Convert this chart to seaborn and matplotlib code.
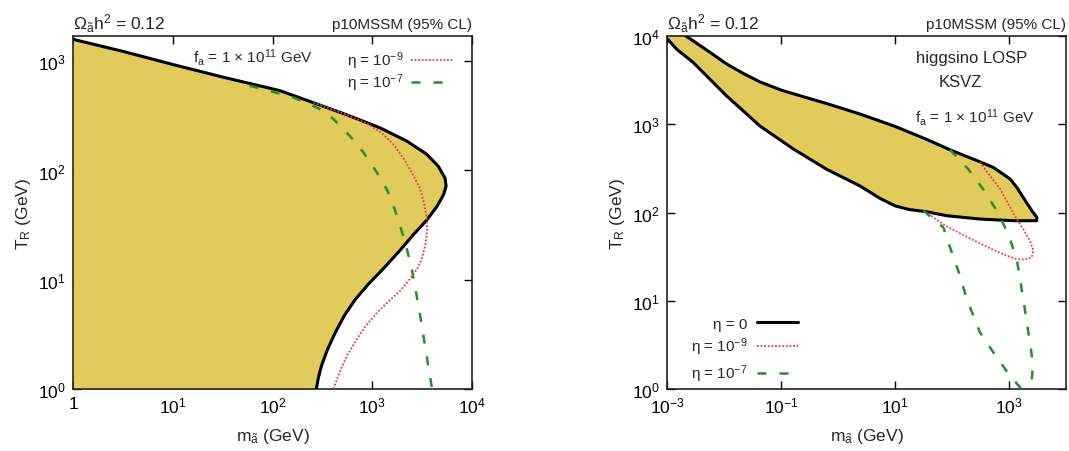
import numpy as np
import matplotlib
matplotlib.use("Agg")
import matplotlib.pyplot as plt
import seaborn as sns

sns.set_style("ticks")
plt.rcParams['font.family'] = ['Liberation Sans', 'DejaVu Sans']
plt.rcParams['mathtext.fontset'] = 'custom'
plt.rcParams['mathtext.rm'] = 'Liberation Sans'
plt.rcParams['mathtext.it'] = 'Liberation Sans:italic'
plt.rcParams['mathtext.bf'] = 'Liberation Sans:bold'

# ---- left panel: eta = 0 boundary (m in GeV, T_R in GeV)
left_eta0_m = [1, 3.16, 10, 31.6, 119, 257, 550, 1202, 2213, 3508, 4571, 5370, 5495, 5188,
               4467, 3508, 2570, 1862, 1288, 912, 676, 525, 427, 355, 309, 288, 275]
left_eta0_T = [1585, 1230, 933, 716, 537, 417, 324, 245, 186, 141, 110, 85, 72, 60,
               47, 35, 25.7, 18.2, 12.6, 9.1, 6.6, 4.7, 3.3, 2.29, 1.62, 1.26, 1.0]

left_eta9_m = [257, 550, 891, 1259, 1660, 2089, 2570, 3020, 3311, 3508, 3548, 3428, 3162,
               2818, 2399, 1905, 1413, 1072, 851, 692, 562, 479, 407]
left_eta9_T = [417, 324, 269, 219, 170, 126, 91, 68, 50, 36.3, 28.2, 21.4, 15.8, 12.6,
               10.2, 7.94, 6.17, 4.79, 3.72, 2.82, 2.04, 1.48, 1.0]

left_eta7_m = [58.9, 100, 158, 229, 302, 398, 501, 631, 794, 1000, 1202, 1413, 1585, 1778,
               1995, 2239, 2512, 2754, 3020, 3311, 3631, 3981]
left_eta7_T = [596, 525, 468, 407, 363, 302, 245, 195, 151, 112, 85, 66, 51, 38, 26.9,
               18.6, 12.0, 7.6, 4.7, 2.82, 1.66, 1.0]

# ---- right panel: higgsino LOSP, KSVZ
right_upper_m = [0.001, 0.002213, 0.005675, 0.01114, 0.02188, 0.04266, 0.1028, 0.2512,
                 0.631, 2.432, 10, 35.5, 92.3, 269, 531, 1047, 1380, 1778, 2138, 2512,
                 2884, 3090]
right_upper_T = [14800, 9886, 6531, 4819, 3758, 3020, 2427, 2042, 1718, 1306, 946, 676,
                 513, 389, 324, 240, 191, 148, 123, 105, 93.3, 87.1]
right_lower_m = [0.00101, 0.001479, 0.002884, 0.005675, 0.01114, 0.02188, 0.04266, 0.1644,
                 0.631, 2.432, 5.46, 10, 17.8, 35.9, 80.5, 309, 1189, 3055]
right_lower_T = [9333, 7079, 5012, 3236, 2089, 1413, 955, 525, 309, 200, 144.5, 119, 108,
                 102, 92, 84.3, 80.7, 80.7]

right_eta9_m = [309, 465, 695, 973, 1365, 1778, 2333, 2673, 2500, 1905, 1365, 912, 531, 309,
                158, 80.5, 46.8, 38.5]
right_eta9_T = [372, 261, 185, 125, 84.3, 65, 47.9, 36.9, 31.0, 29.2, 29.7, 32.4, 37.8, 44.7,
                55.6, 69.7, 88.1, 100]

right_eta7a_m = [92.3, 194, 355, 610, 973, 1380, 1778, 2188, 2512, 2570, 2432]
right_eta7a_T = [513, 309, 182, 105, 57, 28.8, 10.5, 4.37, 2.40, 1.55, 1.0]
right_eta7b_m = [31.4, 70.5, 98.9, 138, 181, 309, 531, 1042, 1660]
right_eta7b_T = [105, 67.6, 35.5, 19.2, 10.5, 4.39, 2.60, 1.41, 1.0]

left_xticks = [1, 10, 100, 1000, 10000]
left_xlabels = ['1', '10$^{1}$', '10$^{2}$', '10$^{3}$', '10$^{4}$']
left_yticks = [1, 10, 100, 1000]
left_ylabels = ['10$^{0}$', '10$^{1}$', '10$^{2}$', '10$^{3}$']
right_xticks = [1e-3, 1e-1, 1e1, 1e3]
right_xlabels = ['10$^{-3}$', '10$^{-1}$', '10$^{1}$', '10$^{3}$']
right_yticks = [1, 10, 100, 1000, 10000]
right_ylabels = ['10$^{0}$', '10$^{1}$', '10$^{2}$', '10$^{3}$', '10$^{4}$']

fill_color = '#E1CB5B'
red = '#E8385C'
green = '#23902A'
red_style = (0, (1, 1))
green_style = (0, (3.6, 5.2))
line_kw = dict(sort=False, estimator=None, solid_joinstyle='round', solid_capstyle='round')

fig = plt.figure(figsize=(10.69, 4.52), dpi=100)
ax1 = fig.add_axes([73 / 1069, 62 / 452, 399 / 1069, 353 / 452])
ax2 = fig.add_axes([667 / 1069, 62 / 452, 399 / 1069, 353 / 452])

for ax in (ax1, ax2):
    ax.set_xscale('log')
    ax.set_yscale('log')

# left panel
ax1.fill_betweenx(left_eta0_T, 1, left_eta0_m, color=fill_color, lw=0, zorder=1)
sns.lineplot(x=left_eta0_m, y=left_eta0_T, color='black', lw=2.2, ax=ax1, zorder=3, **line_kw)
sns.lineplot(x=left_eta7_m, y=left_eta7_T, color=green, lw=1.8, linestyle=green_style,
             ax=ax1, zorder=4, label='η = 10$^{-7}$', sort=False, estimator=None)
sns.lineplot(x=left_eta9_m, y=left_eta9_T, color=red, lw=1.3, linestyle=red_style,
             ax=ax1, zorder=5, label='η = 10$^{-9}$', sort=False, estimator=None)

# right panel
ax2.fill(right_upper_m + right_lower_m[::-1], right_upper_T + right_lower_T[::-1],
         color=fill_color, lw=0, zorder=1)
sns.lineplot(x=right_upper_m + right_lower_m[::-1], y=right_upper_T + right_lower_T[::-1],
             color='black', lw=2.2, ax=ax2, zorder=3, label='η = 0', **line_kw)
sns.lineplot(x=right_eta9_m, y=right_eta9_T, color=red, lw=1.3, linestyle=red_style,
             ax=ax2, zorder=5, label='η = 10$^{-9}$', sort=False, estimator=None)
sns.lineplot(x=right_eta7a_m, y=right_eta7a_T, color=green, lw=1.8, linestyle=green_style,
             ax=ax2, zorder=4, label='η = 10$^{-7}$', sort=False, estimator=None)
sns.lineplot(x=right_eta7b_m, y=right_eta7b_T, color=green, lw=1.8, linestyle=green_style,
             ax=ax2, zorder=4, sort=False, estimator=None)

ax1.set_xlim(1, 1e4)
ax1.set_ylim(1, 1700)
ax2.set_xlim(1e-3, 1e4)
ax2.set_ylim(1, 1e4)

ax1.set_xticks(left_xticks, left_xlabels)
ax1.set_yticks(left_yticks, left_ylabels)
ax2.set_xticks(right_xticks, right_xlabels)
ax2.set_yticks(right_yticks, right_ylabels)

for ax in (ax1, ax2):
    ax.minorticks_off()
    ax.tick_params(direction='in', top=True, right=True, length=6, width=1,
                   labelsize=12.5, pad=5, colors='black')
    for s in ax.spines.values():
        s.set_linewidth(1.2)
        s.set_color('#222222')
    ax.set_xlabel(r'm$_{\tilde{\rm a}}$ (GeV)', fontsize=12.5)
    ax.set_ylabel(r'T$_{\rm R}$ (GeV)', fontsize=12.5)
    ax.xaxis.set_label_coords(0.5, -0.105)
    ax.yaxis.set_label_coords(-0.10, 0.5)
    ax.text(0.0, 1.022, r'$\Omega_{\tilde{\rm a}}$h$^2$ = 0.12', transform=ax.transAxes,
            ha='left', va='baseline', fontsize=12.5)
    ax.text(1.0, 1.022, 'p10MSSM (95% CL)', transform=ax.transAxes,
            ha='right', va='baseline', fontsize=11)

# left legend and annotation
h, l = ax1.get_legend_handles_labels()
ax1.legend(h[::-1], l[::-1], loc='upper right', bbox_to_anchor=(0.955, 0.962),
           frameon=False, markerfirst=False, fontsize=11, handlelength=2.8,
           handletextpad=0.5, labelspacing=0.05, borderpad=0, borderaxespad=0)
ax1.text(0.451, 0.943, r'f$_{\rm a}$ = 1 $\times$ 10$^{11}$ GeV', transform=ax1.transAxes,
         ha='center', va='center', fontsize=11)

# right legend and annotations
ax2.legend(loc='lower left', bbox_to_anchor=(0.06, 0.013), frameon=False,
           markerfirst=False, fontsize=11, handlelength=2.7, handletextpad=0.6,
           labelspacing=0.35, borderpad=0, borderaxespad=0)
ax2.text(0.764, 0.94, 'higgsino LOSP', transform=ax2.transAxes, ha='center',
         va='center', fontsize=12)
ax2.text(0.736, 0.87, 'KSVZ', transform=ax2.transAxes, ha='center', va='center',
         fontsize=12)
ax2.text(0.772, 0.773, r'f$_{\rm a}$ = 1 $\times$ 10$^{11}$ GeV', transform=ax2.transAxes,
         ha='center', va='center', fontsize=11)

fig.savefig('out.png', dpi=100)
